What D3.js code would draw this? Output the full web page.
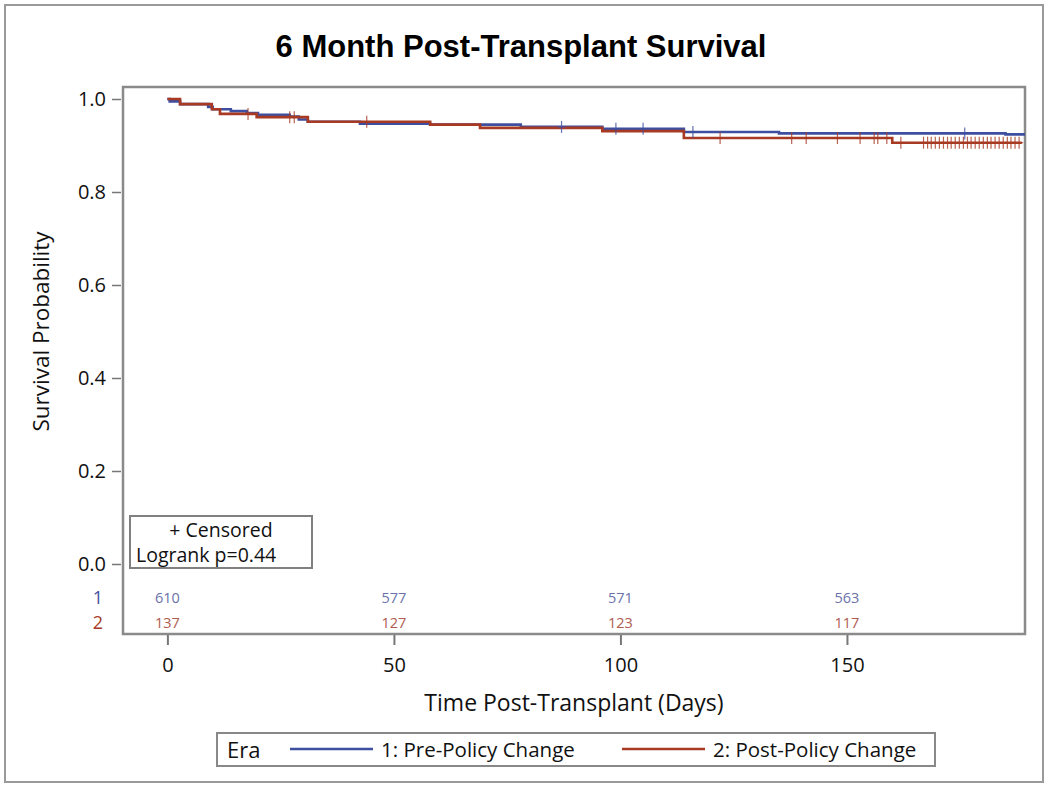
<!DOCTYPE html>
<html>
<head>
<meta charset="utf-8">
<script src="https://cdn.jsdelivr.net/npm/d3@7"></script>
<style>
  html, body { margin: 0; padding: 0; background: #fff; }
  svg { display: block; }
</style>
</head>
<body>
<svg id="chart" width="1050" height="791"></svg>
<script>
// ---- Data ----
const title = "6 Month Post-Transplant Survival";
const seriesNames = ["1: Pre-Policy Change", "2: Post-Policy Change"];
const seriesCodes = ["1", "2"];

// Kaplan-Meier step points: time (days) and survival probability
const preTimes  = [0, 0.5, 2.8, 9, 10, 14, 17.5, 20, 27, 29, 31, 42.5, 58, 78, 96, 114, 135, 185, 189.3];
const preSurv   = [1.0, 0.995, 0.989, 0.983, 0.978, 0.974, 0.970, 0.966, 0.962, 0.956, 0.951, 0.947, 0.945, 0.940, 0.936, 0.929, 0.926, 0.924, 0.924];
const postTimes = [0, 2.8, 9.8, 11.6, 19.7, 31, 58, 69, 96, 114, 160, 188.6];
const postSurv  = [1.0, 0.989, 0.978, 0.968, 0.961, 0.951, 0.945, 0.938, 0.931, 0.916, 0.906, 0.906];

// Censoring times
const preCensor  = [87, 99, 105, 116, 176];
const postCensor = [17.8, 27, 28, 44, 122, 137.8, 141, 147.9, 152.9, 156, 156.8, 158.8, 161.9,
  166.9, 167.8, 168.6, 169.5, 170.4, 171.3, 172.2, 173.0, 173.9, 174.8, 175.7, 176.6, 177.4,
  178.3, 179.2, 180.1, 181.0, 181.8, 182.7, 183.6, 184.5, 185.4, 186.2, 187.1, 188.0];

// Number at risk
const riskTimes = [0, 50, 100, 150];
const preRisk   = [610, 577, 571, 563];
const postRisk  = [137, 127, 123, 117];

const xTicks = [0, 50, 100, 150];
const yTicks = [0.0, 0.2, 0.4, 0.6, 0.8, 1.0];
const xLabel = "Time Post-Transplant (Days)";
const yLabel = "Survival Probability";
const insetLines = ["+ Censored", "Logrank p=0.44"];
const legendTitle = "Era";

// ---- Layout & style ----
const colors = ["#3f4fa0", "#a83a24"];
const riskColors = ["#6a72aa", "#b05c52"];
const font = "'Open Sans', 'DejaVu Sans', sans-serif";
const frame = { left: 123, right: 1025, top: 87, bottom: 634 };

const svg = d3.select("#chart");

// outer border
svg.append("rect").attr("x", 5).attr("y", 5).attr("width", 1038).attr("height", 777)
  .attr("fill", "#fff").attr("stroke", "#9a9a9a").attr("stroke-width", 2);

// title
svg.append("text").attr("x", 521).attr("y", 57).attr("text-anchor", "middle")
  .attr("font-family", "'Liberation Sans', Arial, sans-serif").attr("font-weight", "bold")
  .attr("font-size", 31).attr("fill", "#000").text(title);

const x = d3.scaleLinear().domain([-9.8, 189.3]).range([frame.left, frame.right]);
const y = d3.scaleLinear().domain([0, 1]).range([564, 99]);

// plot frame
svg.append("rect").attr("x", frame.left).attr("y", frame.top)
  .attr("width", frame.right - frame.left).attr("height", frame.bottom - frame.top)
  .attr("fill", "none").attr("stroke", "#8a8a8a").attr("stroke-width", 2.5);

// y axis
const yAxis = d3.axisLeft(y).tickValues(yTicks).tickFormat(d3.format(".1f")).tickSizeOuter(0).tickSize(9).tickPadding(6);
const gy = svg.append("g").attr("transform", `translate(${frame.left - 2},0)`).call(yAxis);
gy.select(".domain").remove();
gy.selectAll(".tick line").attr("stroke", "#777").attr("stroke-width", 1.5);
gy.selectAll(".tick text").attr("font-family", font).attr("font-size", 20).attr("fill", "#111");

// x axis
const xAxis = d3.axisBottom(x).tickValues(xTicks).tickFormat(d3.format("d")).tickSizeOuter(0).tickSize(10).tickPadding(13);
const gx = svg.append("g").attr("transform", `translate(0,${frame.bottom + 1})`).call(xAxis);
gx.select(".domain").remove();
gx.selectAll(".tick line").attr("stroke", "#777").attr("stroke-width", 2);
gx.selectAll(".tick text").attr("font-family", font).attr("font-size", 20).attr("fill", "#111");

// axis labels
svg.append("text").attr("x", (frame.left + frame.right) / 2).attr("y", 711)
  .attr("text-anchor", "middle").attr("font-family", font).attr("font-size", 23).attr("fill", "#111")
  .text(xLabel);
svg.append("text").attr("transform", `translate(49,${(y(0) + y(1)) / 2}) rotate(-90)`)
  .attr("text-anchor", "middle").attr("font-family", font).attr("font-size", 22.5).attr("fill", "#111")
  .text(yLabel);

// curves
const line = d3.line().x(d => x(d[0])).y(d => y(d[1])).curve(d3.curveStepAfter);
const series = [
  { times: preTimes, surv: preSurv, cens: preCensor },
  { times: postTimes, surv: postSurv, cens: postCensor }
];
series.forEach((s, i) => {
  const pts = s.times.map((t, k) => [t, s.surv[k]]);
  svg.append("path").datum(pts).attr("d", line).attr("fill", "none")
    .attr("stroke", colors[i]).attr("stroke-width", 2.6);
});
// censor marks
series.forEach((s, i) => {
  const survAt = t => { let v = s.surv[0]; s.times.forEach((tt, k) => { if (tt <= t) v = s.surv[k]; }); return v; };
  const g = svg.append("g");
  s.cens.forEach(t => {
    const cx = x(t), cy = y(survAt(t));
    g.append("line").attr("x1", cx).attr("x2", cx).attr("y1", cy - 6).attr("y2", cy + 6)
      .attr("stroke", colors[i]).attr("stroke-width", 1.2).attr("opacity", 0.8);
    g.append("line").attr("x1", cx - 4).attr("x2", cx + 4).attr("y1", cy).attr("y2", cy)
      .attr("stroke", colors[i]).attr("stroke-width", 1.2).attr("opacity", 0.8);
  });
});

// inset box
svg.append("rect").attr("x", 130).attr("y", 516).attr("width", 182).attr("height", 52)
  .attr("fill", "#fff").attr("stroke", "#808080").attr("stroke-width", 2);
svg.append("text").attr("x", 221).attr("y", 537).attr("text-anchor", "middle")
  .attr("font-family", font).attr("font-size", 19.5).attr("fill", "#111").text(insetLines[0]);
svg.append("text").attr("x", 136).attr("y", 562)
  .attr("font-family", font).attr("font-size", 19.5).attr("fill", "#111").text(insetLines[1]);

// at-risk table
const riskRows = [preRisk, postRisk];
const rowY = [603, 628];
riskRows.forEach((row, i) => {
  svg.append("text").attr("x", 103).attr("y", rowY[i] + 1).attr("text-anchor", "end")
    .attr("font-family", font).attr("font-size", 18).attr("fill", colors[i]).text(seriesCodes[i]);
  svg.selectAll(null).data(riskTimes).enter().append("text")
    .attr("x", d => x(d)).attr("y", rowY[i]).attr("text-anchor", "middle")
    .attr("font-family", font).attr("font-size", 14.5).attr("fill", riskColors[i])
    .text((d, k) => row[k]);
});

// legend
svg.append("rect").attr("x", 217).attr("y", 733).attr("width", 718).attr("height", 33)
  .attr("fill", "#fff").attr("stroke", "#888").attr("stroke-width", 2);
svg.append("text").attr("x", 227).attr("y", 758).attr("font-family", font).attr("font-size", 22)
  .attr("fill", "#111").text(legendTitle);
const legX = [290, 622];
seriesNames.forEach((name, i) => {
  svg.append("line").attr("x1", legX[i]).attr("x2", legX[i] + 83).attr("y1", 749).attr("y2", 749)
    .attr("stroke", colors[i]).attr("stroke-width", 2.6);
  svg.append("text").attr("x", legX[i] + 91).attr("y", 757).attr("font-family", font)
    .attr("font-size", 20.5).attr("fill", "#111").text(name);
});
</script>
</body>
</html>
